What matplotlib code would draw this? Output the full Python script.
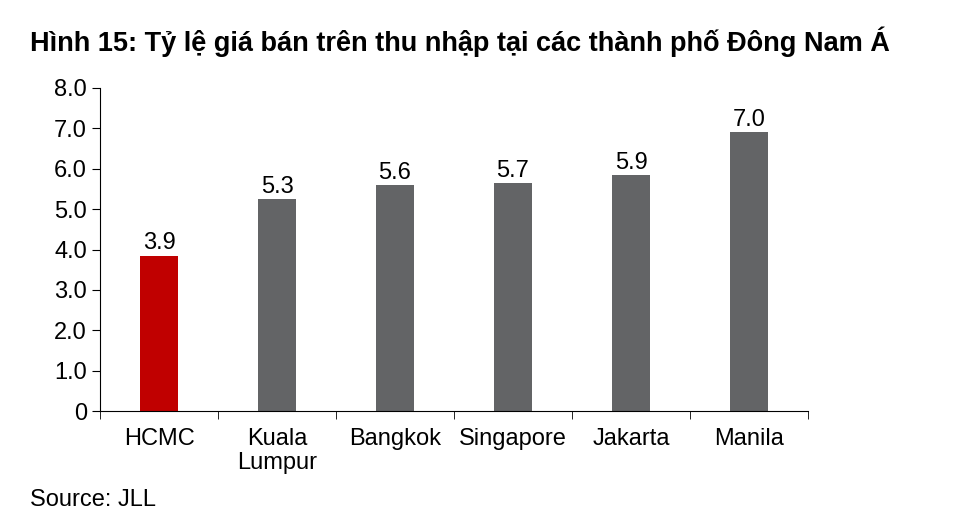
import matplotlib
matplotlib.use("Agg")
import matplotlib.pyplot as plt
import numpy as np

plt.rcParams['font.family'] = ['Liberation Sans', 'DejaVu Sans']

categories = ["HCMC", "Kuala\nLumpur", "Bangkok", "Singapore", "Jakarta", "Manila"]
values = [3.85, 5.25, 5.6, 5.65, 5.85, 6.9]
labels = ["3.9", "5.3", "5.6", "5.7", "5.9", "7.0"]
colors = ["#c00000", "#636466", "#636466", "#636466", "#636466", "#636466"]
yticks = [0, 1, 2, 3, 4, 5, 6, 7, 8]
yticklabels = ["0", "1.0", "2.0", "3.0", "4.0", "5.0", "6.0", "7.0", "8.0"]

fig = plt.figure(figsize=(9.6, 5.24), dpi=100)
ax = fig.add_axes([100/960, 1-411/524, 708/960, 323/524])
x = np.arange(len(categories))
ax.bar(x, values, width=0.32, color=colors)
for xi, v, l in zip(x, values, labels):
    ax.text(xi, v + 0.03, l, ha='center', va='bottom', fontsize=17)
ax.set_xlim(-0.5, len(categories) - 0.5)
ax.set_ylim(0, 8)
ax.set_yticks(yticks)
ax.set_yticklabels(yticklabels, fontsize=17)
ax.set_xticks(x)
ax.set_xticklabels(categories, fontsize=17, va='top', linespacing=1.15)
ax.set_xticks(np.arange(len(categories) + 1) - 0.5, minor=True)
ax.tick_params(axis='x', which='major', length=0, pad=12)
ax.tick_params(axis='x', which='minor', length=6, direction='out', color='black')
ax.tick_params(axis='y', length=6, direction='out', color='black')
for s in ['top', 'right']:
    ax.spines[s].set_visible(False)
for s in ['left', 'bottom']:
    ax.spines[s].set_color('black')
fig.text(30/960, 1-42/524, "Hình 15: Tỷ lệ giá bán trên thu nhập tại các thành phố Đông Nam Á",
         fontsize=19.5, fontweight='bold', va='center')
fig.text(30/960, 1-500/524, "Source: JLL", fontsize=17, va='center')
fig.savefig("out.png", dpi=100)
